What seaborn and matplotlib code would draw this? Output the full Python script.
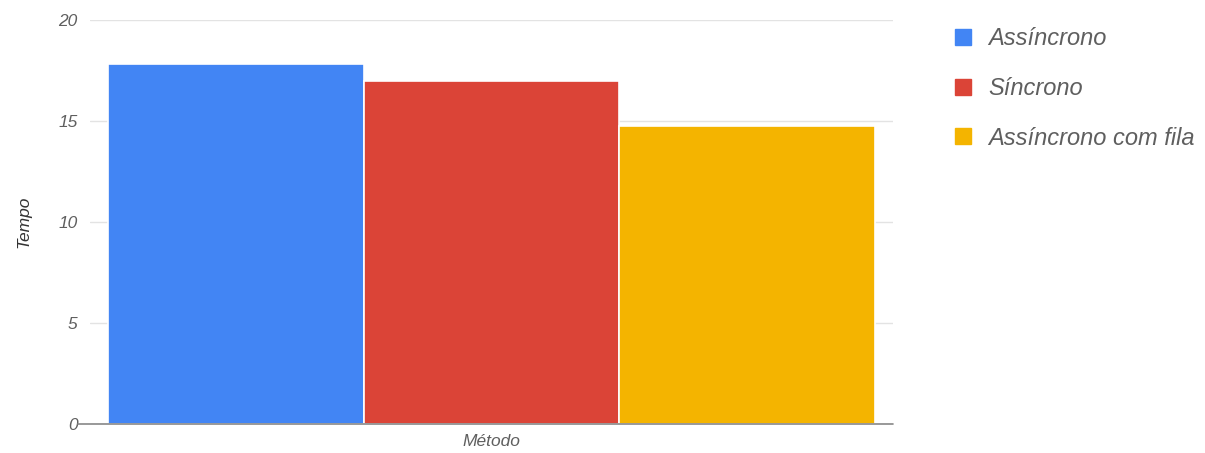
import matplotlib
matplotlib.use("Agg")
import matplotlib.pyplot as plt
import seaborn as sns
import pandas as pd
from matplotlib.patches import Patch

# Data
categoria = ["Método"]
series = ["Assíncrono", "Síncrono", "Assíncrono com fila"]
tempos = [17.8, 17.0, 14.75]
cores = ["#4285F4", "#DB4437", "#F4B400"]
y_ticks = [0, 5, 10, 15, 20]

df = pd.DataFrame({
    "metodo": categoria * len(series),
    "tipo": series,
    "tempo": tempos,
})

sns.set_theme(style="white")
plt.rcParams["font.family"] = ["Liberation Sans", "DejaVu Sans"]

texto = "#5f5f5f"

fig = plt.figure(figsize=(12.05, 4.53), dpi=100)
ax = fig.add_axes([90 / 1205, 1 - 424 / 453, 803 / 1205, 404 / 453])

sns.barplot(data=df, x="metodo", y="tempo", hue="tipo", hue_order=series,
            palette=cores, saturation=1, width=0.8, edgecolor="white",
            linewidth=1.2, ax=ax, legend=False)

ax.set_ylim(0, 20)
ax.set_xlim(-0.419, 0.419)
ax.set_yticks(y_ticks)
ax.set_yticklabels([str(t) for t in y_ticks], fontstyle="italic",
                   color=texto, fontsize=12.5)
ax.tick_params(axis="y", length=0, pad=9)
ax.tick_params(axis="x", length=0, pad=7, labelsize=12.5, labelcolor=texto)
for lbl in ax.get_xticklabels():
    lbl.set_fontstyle("italic")

ax.yaxis.grid(True, color="#e3e3e3", linewidth=1)
ax.set_axisbelow(True)
for s in ax.spines.values():
    s.set_visible(False)
ax.axhline(0, xmin=-0.015, xmax=1.0, color="#888888", linewidth=1.2,
           clip_on=False, zorder=5)

ax.set_xlabel("")
ax.set_ylabel("Tempo", fontstyle="italic", color="#333333", fontsize=12.5,
              labelpad=19)

handles = [Patch(facecolor=c, edgecolor=c, label=s) for c, s in zip(cores, series)]
leg = fig.legend(handles=handles, loc="upper left",
                 bbox_to_anchor=(934 / 1205, 1 - 6 / 453),
                 frameon=False, fontsize=17, handlelength=0.68, handleheight=0.68,
                 handletextpad=0.7, labelspacing=1.13)
for t in leg.get_texts():
    t.set_fontstyle("italic")
    t.set_color(texto)

fig.savefig("out.png", dpi=100)
